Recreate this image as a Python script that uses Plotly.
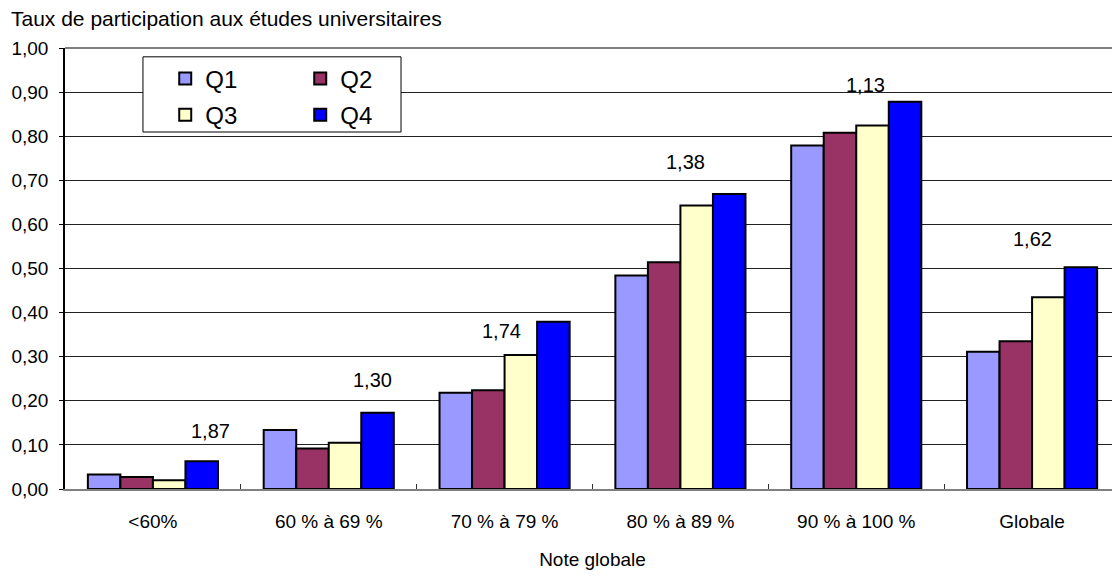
import plotly.graph_objects as go

categories = ["<60%", "60 % à 69 %", "70 % à 79 %", "80 % à 89 %", "90 % à 100 %", "Globale"]
q1 = [0.033, 0.134, 0.218, 0.484, 0.779, 0.311]
q2 = [0.027, 0.092, 0.224, 0.514, 0.808, 0.335]
q3 = [0.020, 0.105, 0.304, 0.643, 0.824, 0.435]
q4 = [0.063, 0.173, 0.379, 0.669, 0.878, 0.503]
ratio_labels = ["1,87", "1,30", "1,74", "1,38", "1,13", "1,62"]

series = [("Q1", q1, "#9999FF", "legend"), ("Q2", q2, "#993366", "legend"),
          ("Q3", q3, "#FFFFCC", "legend2"), ("Q4", q4, "#0000FF", "legend2")]

# label placement (layout only)
label_dx = [0.33, 0.25, -0.02, 0.03, 0.05, 0.0]
label_y = [0.132, 0.247, 0.359, 0.742, 0.917, 0.566]

FONT = "Liberation Sans, Arial, sans-serif"

fig = go.Figure()
for name, vals, col, lg in series:
    fig.add_trace(go.Bar(x=categories, y=vals, name=name, legend=lg,
                         marker=dict(color=col, line=dict(color="black", width=2))))

for i, (lab, dx, yy) in enumerate(zip(ratio_labels, label_dx, label_y)):
    fig.add_annotation(x=i + dx, y=yy, xref="x", yref="y", text=lab, showarrow=False,
                       font=dict(size=20, color="black", family=FONT))

fig.add_annotation(x=-0.053, y=1.068, xref="paper", yref="paper", xanchor="left", yanchor="middle",
                   text="Taux de participation aux études universitaires", showarrow=False,
                   font=dict(size=21, color="black", family=FONT))

fig.add_shape(type="rect", xref="paper", yref="paper", x0=0.0739, x1=0.3185, y0=0.8095, y1=0.98,
              line=dict(color="black", width=1), fillcolor="white", layer="above")
fig.add_shape(type="line", xref="paper", yref="paper", x0=0, x1=1, y0=1, y1=1,
              line=dict(color="#808080", width=2), layer="above")

fig.update_layout(
    width=1112, height=570,
    margin=dict(l=57, r=0, t=40, b=89),
    paper_bgcolor="white", plot_bgcolor="white",
    separators=", ",
    barmode="group", bargap=0.26, bargroupgap=0,
    font=dict(family=FONT, color="black", size=19),
    legend=dict(orientation="h", x=0.095, y=0.93, xanchor="left", yanchor="middle",
                bgcolor="rgba(0,0,0,0)", font=dict(size=24), entrywidth=90, traceorder="normal"),
    legend2=dict(orientation="h", x=0.095, y=0.848, xanchor="left", yanchor="middle",
                 bgcolor="rgba(0,0,0,0)", font=dict(size=24), entrywidth=90, traceorder="normal"),
    xaxis=dict(type="category", tickson="boundaries", ticks="inside", ticklen=5, tickcolor="#333",
               showline=True, linecolor="#808080", linewidth=2, showgrid=False,
               ticklabelstandoff=14, tickfont=dict(size=19),
               title=dict(text="Note globale", font=dict(size=19), standoff=22)),
    yaxis=dict(range=[0, 1], dtick=0.1, tickformat=".2f", ticks="outside", ticklen=4,
               tickcolor="black", showline=True, linecolor="black", linewidth=1.5,
               showgrid=True, gridcolor="#222222", gridwidth=1, zeroline=False,
               ticklabelstandoff=7, tickfont=dict(size=19)),
)

fig.write_html("out.html")
